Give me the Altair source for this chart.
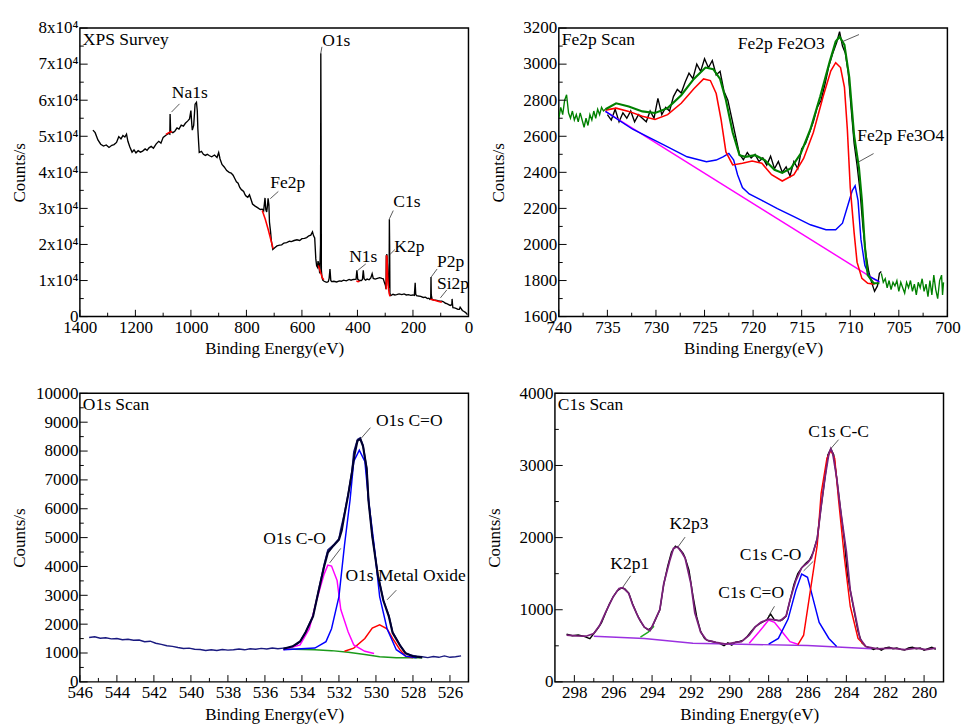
import altair as alt
import pandas as pd

FONT = "Liberation Serif"
W, H = 400, 297

# ---------------- Panel 1: XPS survey ----------------
survey_E = [1353, 1345, 1335, 1325, 1315, 1305, 1295, 1285, 1277, 1268, 1260, 1252, 1245, 1238, 1232, 1227,
            1220, 1212, 1205, 1198, 1190, 1182, 1174, 1165, 1158, 1151, 1143, 1135, 1125, 1116, 1108, 1100,
            1090, 1081, 1076, 1075, 1073, 1065, 1058, 1050, 1043, 1035, 1027, 1020, 1012, 1005, 1000, 997,
            995, 990, 985, 980, 977, 975, 972, 970, 962, 955, 948, 941, 933, 925, 915, 906, 900, 895, 888,
            880, 871, 862, 855, 848, 842, 836, 830, 824, 818, 810, 805, 801, 795, 789, 783, 778, 770, 760,
            750, 743, 738, 735, 733, 730, 727, 724, 722, 719, 717, 713, 710, 705, 698, 690, 680, 673, 665,
            655, 645, 638, 628, 618, 608, 600, 591, 583, 575, 568, 562, 558, 554, 550, 547, 544, 542, 539,
            536, 533, 532, 531, 530, 528, 525, 520, 515, 510, 505, 502, 499, 496, 493, 485, 475, 465, 458,
            450, 440, 430, 423, 415, 405, 402, 399, 394, 386, 382, 379, 376, 371, 365, 358, 352, 347, 343,
            336, 328, 320, 312, 307, 303, 299, 297, 296, 294, 292, 290, 288, 286, 285, 284, 283, 282, 280,
            272, 265, 259, 250, 240, 232, 224, 216, 208, 200, 195, 192, 190, 187, 180, 172, 163, 155, 148,
            143, 139, 136, 135, 134, 131, 125, 118, 110, 103, 96, 90, 83, 78, 73, 66, 60, 59, 57, 56, 50,
            43, 38, 33, 30, 27, 22, 16, 10, 6, 3]
survey_C = [51700, 51000, 49000, 47800, 47300, 47600, 46900, 47500, 47700, 48300, 49900, 49300, 50200, 49800,
            50600, 48600, 47000, 45600, 46200, 45400, 46000, 45600, 45900, 46500, 46100, 46800, 47200, 46700,
            47900, 48600, 48100, 49700, 50300, 50800, 50600, 56200, 51300, 51000, 51400, 52300, 52000, 53100,
            52800, 53600, 54200, 54800, 57100, 53500, 51700, 53000, 58900, 59400, 57000, 52100, 48000, 45500,
            45800, 45000, 44700, 45000, 44600, 44300, 44800, 44100, 45500, 43700, 42200, 41500, 40500, 40000,
            39800, 39200, 38300, 37400, 37000, 35800, 35200, 34700, 33800, 33400, 33100, 33800, 32400, 31200,
            30700, 30200, 29700, 29800, 29300, 31500, 32900, 29600, 29000, 30800, 32800, 31000, 26200, 23500,
            20900, 18600, 19100, 19600, 19800, 19900, 20400, 20500, 20900, 20800, 21100, 21300, 21100, 21600,
            21700, 21900, 22400, 22600, 23500, 22400, 21800, 16000, 14100, 13700, 15400, 14500, 12000, 20000,
            73000, 50000, 13000, 11000, 10100, 9800, 9600, 9500, 9700, 10600, 13200, 10000, 9700, 9800, 9600,
            9900, 9800, 10100, 9900, 10300, 10100, 10300, 10400, 12800, 10400, 10000, 10000, 10300, 12800,
            10500, 10100, 10400, 10200, 10700, 11900, 10600, 10400, 10600, 10800, 10600, 10500, 9500, 8600,
            7600, 16800, 17300, 14500, 10500, 8500, 8000, 27000, 20000, 6500, 6000, 5800, 6200, 6000, 6100,
            6300, 6100, 6300, 6000, 6100, 5900, 6000, 5900, 9400, 6200, 5800, 5700, 5600, 5300, 5400, 5000,
            5100, 4800, 5000, 11000, 6000, 4750, 4600, 4550, 4400, 4300, 4300, 4100, 3700, 3600, 3400, 3100,
            3300, 4900, 3000, 2500, 2400, 2200, 2000, 2000, 2600, 2300, 1700, 1400, 1100, 720, 600]
red_na_E = [1090, 1080, 1068]
red_na_C = [50500, 51000, 51300]
red_fe_E = [743, 732, 722, 712, 704]
red_fe_C = [29400, 27000, 24300, 21300, 18900]
red_o_E = [541, 536, 531, 526, 521]
red_o_C = [14200, 13000, 11800, 10700, 10200]
red_n_E = [404, 398, 392]
red_n_C = [9900, 9700, 9800]
red_k_E = [296.5, 295.5, 293.5, 291, 288.5, 286, 283.5, 282]
red_k_C = [7600, 17000, 16500, 11000, 8000, 6500, 5800, 5700]
red_p_E = [137, 122, 107, 96]
red_p_C = [4800, 4500, 4200, 4000]

survey_lbl = ["O1s", "Na1s", "Fe2p", "C1s", "K2p", "N1s", "P2p", "Si2p"]
survey_lbl_E = [476, 1004, 651, 222, 213, 379, 64, 56]
survey_lbl_C = [76300, 62000, 37000, 31700, 19300, 16400, 15000, 9100]
survey_lead_E1 = [532, 1070, 714, 285, 282, 399, 134, 101]
survey_lead_C1 = [73000, 56700, 32700, 27100, 17300, 12800, 11000, 5200]
survey_lead_E2 = [528, 1041, 685, 271, 265, 370, 113, 78]
survey_lead_C2 = [74800, 59000, 34700, 29400, 18600, 14600, 13200, 7400]

# ---------------- Panel 2: Fe2p ----------------
fe_raw_left_E = [740.0, 739.8, 739.6, 739.4, 739.2, 739.0, 738.8, 738.6, 738.4, 738.2, 738.0, 737.8, 737.6,
                 737.4, 737.2, 737.0, 736.8, 736.6, 736.4, 736.2, 736.0, 735.8, 735.6, 735.4, 735.2]
fe_raw_left_C = [2700, 2760, 2720, 2800, 2830, 2730, 2700, 2740, 2690, 2720, 2680, 2730, 2690, 2650, 2700,
                 2660, 2720, 2690, 2740, 2700, 2750, 2720, 2760, 2740, 2750]
fe_raw_right_E = [706.8, 706.6, 706.4, 706.2, 706.0, 705.8, 705.6, 705.4, 705.2, 705.0, 704.8, 704.6, 704.4,
                  704.2, 704.0, 703.8, 703.6, 703.4, 703.2, 703.0, 702.8, 702.6, 702.4, 702.2, 702.0, 701.8,
                  701.6, 701.4, 701.2, 701.0, 700.8, 700.6, 700.5, 700.4]
fe_raw_right_C = [1840, 1790, 1810, 1760, 1800, 1750, 1790, 1770, 1800, 1740, 1790, 1760, 1730, 1790, 1760,
                  1800, 1740, 1780, 1720, 1790, 1760, 1810, 1740, 1780, 1710, 1800, 1720, 1830, 1750, 1700,
                  1800, 1830, 1720, 1790]
fe_fit_E = [735.2, 734.1, 732.8, 731.4, 730.1, 728.8, 727.4, 726.1, 724.9, 724.1, 723.4, 722.8, 722.1, 721.4,
            720.8, 719.8, 718.8, 717.8, 717.0, 716.1, 715.1, 714.1, 713.1, 712.1, 711.5, 711.1, 710.6, 710.1,
            709.6, 709.1, 708.8, 708.5, 708.2, 707.6, 707.0]
fe_fit_C = [2750, 2783, 2765, 2738, 2729, 2756, 2828, 2918, 2981, 2972, 2918, 2801, 2621, 2495, 2486, 2495,
            2468, 2414, 2397, 2423, 2504, 2639, 2819, 3017, 3125, 3152, 3107, 2927, 2603, 2423, 2244, 1992,
            1830, 1785, 1785]
fe_black_E = [735.0, 734.6, 734.2, 733.8, 733.4, 733.0, 732.6, 732.2, 731.8, 731.4, 731.0, 730.6, 730.2, 729.8,
              729.4, 729.0, 728.6, 728.2, 727.8, 727.4, 727.0, 726.6, 726.2, 725.8, 725.4, 725.0, 724.6, 724.2,
              723.8, 723.4, 723.0, 722.6, 722.2, 721.8, 721.4, 721.0, 720.6, 720.2, 719.8, 719.4, 719.0, 718.6,
              718.2, 717.8, 717.4, 717.0, 716.6, 716.2, 715.8, 715.4, 715.0, 714.6, 714.2, 713.8, 713.4, 713.0,
              712.6, 712.2, 711.8, 711.4, 711.1, 710.8, 710.5, 710.2, 709.9, 709.6, 709.3, 709.0, 708.7, 708.4,
              708.1, 707.8, 707.5, 707.2, 707.0, 706.8]
fe_black_C = [2720, 2690, 2750, 2680, 2730, 2700, 2740, 2680, 2720, 2700, 2680, 2740, 2700, 2810, 2720, 2760,
              2740, 2820, 2860, 2840, 2900, 2950, 2920, 3000, 2960, 3030, 2980, 3020, 2940, 2960, 2850, 2800,
              2700, 2600, 2500, 2470, 2510, 2480, 2500, 2460, 2480, 2440, 2490, 2420, 2460, 2400, 2430, 2380,
              2460, 2420, 2530, 2560, 2620, 2680, 2760, 2800, 2890, 2990, 3060, 3120, 3180, 3100, 3060, 2950,
              2750, 2560, 2440, 2300, 2100, 1950, 1850, 1790, 1740, 1770, 1840, 1850]
fe_red_E = [735.2, 734.1, 732.8, 731.4, 730.1, 728.8, 727.4, 726.1, 725.1, 724.4, 723.8, 723.3, 722.8, 722.1,
            721.1, 720.1, 719.1, 718.1, 717.0, 715.8, 714.8, 713.8, 712.8, 712.0, 711.5, 711.0, 710.6, 710.3,
            710.0, 709.6, 709.3, 708.8, 708.2, 707.5]
fe_red_C = [2745, 2756, 2738, 2711, 2693, 2720, 2783, 2864, 2918, 2909, 2837, 2693, 2513, 2441, 2450, 2463,
            2450, 2387, 2352, 2387, 2477, 2621, 2819, 2963, 3008, 2981, 2873, 2639, 2316, 2064, 1902, 1812,
            1785, 1780]
fe_blue_E = [735.2, 732.4, 729.1, 726.8, 724.8, 723.8, 723.1, 722.5, 722.0, 721.6, 721.1, 720.4, 719.1, 717.5,
             715.8, 714.1, 712.5, 711.5, 710.8, 710.3, 709.8, 709.5, 709.2, 708.9, 708.5, 708.0, 707.0]
fe_blue_C = [2738, 2639, 2549, 2486, 2459, 2468, 2486, 2505, 2468, 2387, 2316, 2280, 2244, 2199, 2154, 2109,
             2082, 2082, 2118, 2208, 2298, 2325, 2244, 2028, 1884, 1821, 1794]
fe_bg_E = [735.2, 707.0]
fe_bg_C = [2738, 1790]

fe_lbl = ["Fe2p Fe2O3", "Fe2p Fe3O4"]
fe_lbl_E = [717.1, 704.8]
fe_lbl_C = [3110, 2600]
fe_lead_E1 = [710.8, 709.1]
fe_lead_C1 = [3125, 2459]
fe_lead_E2 = [709.1, 707.6]
fe_lead_C2 = [3164, 2504]

# ---------------- Panel 3: O1s ----------------
o_raw_E = [545.5, 545.2, 544.9, 544.6, 544.3, 544.0, 543.7, 543.4, 543.1, 542.8, 542.5, 542.2, 541.9, 541.6,
           541.3, 541.0, 540.7, 540.4, 540.1, 539.8, 539.5, 539.2, 538.9, 538.6, 538.3, 538.0, 537.7, 537.4,
           537.1, 536.8, 536.5, 536.2, 535.9, 535.6, 535.3, 535.0, 534.7, 534.4, 534.1, 533.8, 533.4, 533.1,
           532.8, 532.6, 532.3, 532.0, 531.9, 531.7, 531.5, 531.3, 531.2, 531.0, 530.85, 530.7, 530.5, 530.4,
           530.2, 529.9, 529.6, 529.3, 529.1, 528.7, 528.4, 528.1, 527.8, 527.5, 527.2, 526.9, 526.6, 526.3,
           526.0, 525.7, 525.4]
o_raw_C = [1540, 1560, 1510, 1530, 1490, 1500, 1460, 1480, 1440, 1450, 1390, 1410, 1340, 1300, 1250, 1230,
           1190, 1160, 1170, 1130, 1120, 1090, 1110, 1090, 1120, 1100, 1110, 1140, 1110, 1150, 1130, 1160, 1140,
           1170, 1150, 1170, 1190, 1240, 1390, 1730, 2290, 3180, 4070, 4570, 4740, 4960, 5300, 5850, 6520, 7300,
           7970, 8400, 8460, 8200, 7420, 6300, 5070, 3740, 2840, 2290, 1730, 1280, 1000, 920, 890, 870, 840, 880,
           850, 900, 850, 870, 900]
o_env_E = [535.0, 534.5, 534.1, 533.8, 533.4, 533.1, 532.8, 532.6, 532.3, 532.0, 531.85, 531.7, 531.5, 531.3,
           531.15, 531.0, 530.85, 530.7, 530.5, 530.4, 530.2, 529.9, 529.6, 529.3, 529.1, 528.7, 528.4, 528.0,
           527.5]
o_env_C = [1150, 1230, 1400, 1720, 2270, 3150, 4000, 4480, 4720, 4930, 5250, 5800, 6480, 7250, 7900, 8350, 8420,
           8170, 7380, 6260, 5050, 3700, 2820, 2260, 1700, 1260, 990, 890, 850]
o_co2_E = [535.0, 533.3, 532.7, 532.4, 532.0, 531.7, 531.4, 531.2, 530.9, 530.6, 530.4, 530.1, 529.8, 529.4,
           528.9, 528.4, 527.8]
o_co2_C = [1115, 1171, 1394, 1840, 2955, 4739, 6300, 7638, 8028, 7638, 6300, 4739, 2955, 1840, 1115, 892, 836]
o_co_E = [535.0, 534.1, 533.6, 533.2, 532.8, 532.6, 532.4, 532.1, 531.9, 531.5, 531.2, 530.6, 530.1]
o_co_C = [1115, 1282, 1840, 2843, 3735, 4047, 4014, 3512, 2509, 1728, 1282, 1059, 981]
o_mo_E = [531.7, 531.2, 530.6, 530.2, 529.8, 529.4, 529.1, 528.7, 528.4, 528.0]
o_mo_C = [1059, 1171, 1505, 1862, 1974, 1840, 1505, 1115, 892, 836]
o_bg_E = [535.0, 533.3, 532.4, 531.5, 530.6, 529.8, 528.9, 527.5]
o_bg_C = [1137, 1115, 1082, 1026, 948, 870, 836, 836]

o_lbl = ["O1s C=O", "O1s C-O", "O1s Metal Oxide"]
o_lbl_E = [528.2, 534.4, 528.4]
o_lbl_C = [9030, 4960, 3680]
o_lead_E1 = [530.8, 532.5, 529.4]
o_lead_C1 = [8441, 4125, 2843]
o_lead_E2 = [530.3, 531.9, 528.9]
o_lead_C2 = [8810, 4627, 3178]

# ---------------- Panel 4: C1s ----------------
c_raw_E = [298.4, 298.1, 297.8, 297.5, 297.2, 297.0, 296.8, 296.6, 296.4, 296.2, 296.0, 295.8, 295.6, 295.4,
           295.2, 295.0, 294.8, 294.6, 294.4, 294.2, 294.0, 293.8, 293.6, 293.4, 293.2, 293.0, 292.8, 292.6,
           292.4, 292.3, 292.1, 291.9, 291.7, 291.5, 291.3, 291.1, 290.9, 290.7, 290.5, 290.3, 290.1, 289.9,
           289.7, 289.5, 289.3, 289.1, 288.9, 288.7, 288.5, 288.3, 288.1, 287.9, 287.7, 287.5, 287.3, 287.1,
           286.9, 286.7, 286.5, 286.3, 286.1, 285.9, 285.7, 285.5, 285.3, 285.1, 284.95, 284.8, 284.65, 284.5,
           284.3, 284.1, 283.95, 283.8, 283.6, 283.4, 283.2, 283.0, 282.8, 282.6, 282.4, 282.2, 282.0, 281.8,
           281.6, 281.4, 281.2, 281.0, 280.8, 280.6, 280.4, 280.2, 280.0, 279.8, 279.6, 279.4]
c_raw_C = [660, 640, 650, 630, 600, 670, 740, 820, 950, 1080, 1180, 1260, 1300, 1290, 1230, 1080, 950, 840, 760,
           720, 760, 880, 1000, 1350, 1600, 1800, 1880, 1850, 1780, 1720, 1550, 1200, 900, 700, 600, 570, 560,
           545, 530, 500, 540, 510, 550, 560, 580, 630, 700, 760, 800, 830, 860, 940, 860, 850, 860, 910, 1130,
           1350, 1500, 1580, 1640, 1690, 1800, 1990, 2430, 2830, 3150, 3230, 3150, 2830, 2390, 1950, 1500,
           1270, 980, 700, 540, 490, 470, 450, 470, 440, 470, 480, 460, 470, 450, 440, 470, 480, 460, 470, 440,
           460, 480, 450]
c_env_E = [298.4, 297.9, 297.4, 297.0, 296.7, 296.4, 296.0, 295.7, 295.5, 295.2, 295.0, 294.7, 294.4, 294.1,
           293.9, 293.6, 293.4, 293.1, 292.9, 292.7, 292.5, 292.3, 292.0, 291.8, 291.5, 291.2, 290.7, 290.2,
           289.7, 289.4, 289.0, 288.7, 288.4, 288.0, 287.7, 287.4, 287.1, 286.9, 286.6, 286.3, 286.0, 285.8,
           285.5, 285.3, 285.1, 284.9, 284.8, 284.7, 284.5, 284.3, 284.0, 283.8, 283.5, 283.3, 283.0, 282.4,
           281.7, 281.0, 280.4, 279.9, 279.4]
c_env_C = [647, 638, 633, 669, 780, 959, 1182, 1293, 1306, 1226, 1070, 892, 758, 713, 825, 1003, 1360, 1672,
           1850, 1873, 1806, 1717, 1360, 959, 691, 580, 548, 522, 548, 557, 647, 758, 825, 870, 860, 847, 914,
           1137, 1405, 1583, 1650, 1717, 1984, 2430, 2831, 3166, 3233, 3166, 2831, 2386, 1806, 1271, 870, 602,
           490, 459, 468, 446, 468, 446, 468]
c_bg_E = [297.0, 294.4, 291.9, 289.4, 286.0, 282.7]
c_bg_C = [633, 602, 535, 522, 504, 459]
c_green_E = [294.6, 294.2, 293.9]
c_green_C = [620, 690, 770]
c_co2_E = [289.0, 288.5, 288.0, 287.7, 287.3, 286.9, 286.5]
c_co2_C = [535, 691, 856, 825, 691, 557, 522]
c_co_E = [288.0, 287.5, 287.0, 286.6, 286.3, 286.0, 285.7, 285.4, 284.9, 284.5]
c_co_C = [522, 602, 870, 1271, 1494, 1449, 1137, 825, 602, 490]
c_cc_E = [286.5, 286.2, 285.9, 285.5, 285.3, 285.0, 284.8, 284.6, 284.4, 284.1, 283.8, 283.4, 283.0]
c_cc_C = [513, 647, 1182, 1895, 2609, 3099, 3210, 3099, 2519, 1717, 1048, 602, 490]

c_lbl = ["C1s C-C", "K2p3", "K2p1", "C1s C-O", "C1s C=O"]
c_lbl_E = [284.4, 292.1, 295.15, 287.9, 288.9]
c_lbl_C = [3456, 2185, 1627, 1761, 1226]
c_lead_E1 = [284.8, 292.7, 295.5, 286.2, 288.0]
c_lead_C1 = [3233, 1859, 1315, 1538, 914]
c_lead_E2 = [284.4, 292.3, 295.1, 285.7, 287.7]
c_lead_C2 = [3358, 2007, 1471, 1672, 1048]


def sdf(xs, ys):
    return pd.DataFrame({"E": xs, "C": ys, "i": list(range(len(xs)))})


def panel(title, xdom, ydom, xmajor, xminor, ymajor, yminor, ylabel_expr, series, lbl, lblE, lblC,
          lE1, lC1, lE2, lC2):
    xs = alt.Scale(domain=xdom, reverse=True, nice=False, zero=False)
    ys = alt.Scale(domain=ydom, nice=False, zero=False)
    xaxis = alt.Axis(values=xmajor, ticks=False, domain=False, grid=False, labelFlush=False,
                     labelOverlap=False, format="d", title="Binding Energy(eV)", labelPadding=2,
                     titlePadding=5)
    yaxis_kw = dict(values=ymajor, ticks=False, domain=False, grid=False, labelOverlap=False,
                    format="d", title="Counts/s", labelPadding=2, titlePadding=9, minExtent=44,
                    maxExtent=44, labelFlush=False)
    if ylabel_expr:
        yaxis_kw["labelExpr"] = ylabel_expr
    yaxis = alt.Axis(**yaxis_kw)

    def X(f="E"):
        return alt.X(f + ":Q", scale=xs, axis=xaxis)

    def Y(f="C"):
        return alt.Y(f + ":Q", scale=ys, axis=yaxis)

    layers = []
    for xsv, ysv, color, w in series:
        layers.append(
            alt.Chart(sdf(xsv, ysv)).mark_line(color=color, strokeWidth=w, clip=True)
            .encode(x=X(), y=Y(), order="i:Q")
        )
    # inward ticks
    layers.append(alt.Chart(pd.DataFrame({"E": xmajor})).mark_rule(color="black", strokeWidth=1)
                  .encode(x=X(), y=alt.value(H), y2=alt.value(H - 7)))
    layers.append(alt.Chart(pd.DataFrame({"E": xminor})).mark_rule(color="black", strokeWidth=1)
                  .encode(x=X(), y=alt.value(H), y2=alt.value(H - 4)))
    layers.append(alt.Chart(pd.DataFrame({"C": ymajor})).mark_rule(color="black", strokeWidth=1)
                  .encode(y=Y(), x=alt.value(0), x2=alt.value(8)))
    layers.append(alt.Chart(pd.DataFrame({"C": yminor})).mark_rule(color="black", strokeWidth=1)
                  .encode(y=Y(), x=alt.value(0), x2=alt.value(4)))
    # leader lines
    lead = pd.DataFrame({"E": lE1, "C": lC1, "E2": lE2, "C2": lC2})
    layers.append(alt.Chart(lead).mark_rule(color="#444444", strokeWidth=0.9)
                  .encode(x=X(), y=Y(), x2="E2:Q", y2="C2:Q"))
    # labels
    lab = pd.DataFrame({"E": lblE, "C": lblC, "t": lbl})
    layers.append(alt.Chart(lab).mark_text(font=FONT, fontSize=18, color="black", align="center",
                                           baseline="middle")
                  .encode(x=X(), y=Y(), text="t:N"))
    # panel title
    layers.append(alt.Chart(pd.DataFrame({"t": [title]})).mark_text(
        font=FONT, fontSize=18, color="black", align="left", baseline="middle")
        .encode(x=alt.value(3), y=alt.value(12), text="t:N"))
    return alt.layer(*layers).properties(width=W, height=H)


p1 = panel("XPS Survey", [0, 1400], [0, 80000],
           [1400, 1200, 1000, 800, 600, 400, 200, 0], [1300, 1100, 900, 700, 500, 300, 100],
           [0, 10000, 20000, 30000, 40000, 50000, 60000, 70000, 80000],
           [5000, 15000, 25000, 35000, 45000, 55000, 65000, 75000],
           "datum.value == 0 ? '0' : format(datum.value / 10000, 'd') + 'x10\u2074'",
           [(survey_E, survey_C, "black", 1.4),
            (red_na_E, red_na_C, "#ff0000", 1.6),
            (red_fe_E, red_fe_C, "#ff0000", 1.6),
            (red_o_E, red_o_C, "#ff0000", 1.6),
            (red_n_E, red_n_C, "#ff0000", 1.6),
            (red_k_E, red_k_C, "#ff0000", 1.6),
            (red_p_E, red_p_C, "#ff0000", 1.6)],
           survey_lbl, survey_lbl_E, survey_lbl_C,
           survey_lead_E1, survey_lead_C1, survey_lead_E2, survey_lead_C2)

p2 = panel("Fe2p Scan", [700, 740], [1600, 3200],
           [740, 735, 730, 725, 720, 715, 710, 705, 700],
           [737.5, 732.5, 727.5, 722.5, 717.5, 712.5, 707.5, 702.5],
           [1600, 1800, 2000, 2200, 2400, 2600, 2800, 3000, 3200],
           [1700, 1900, 2100, 2300, 2500, 2700, 2900, 3100],
           None,
           [(fe_raw_left_E, fe_raw_left_C, "#008000", 1.4),
            (fe_raw_right_E, fe_raw_right_C, "#008000", 1.4),
            (fe_black_E, fe_black_C, "black", 1.4),
            (fe_bg_E, fe_bg_C, "#ff00ff", 1.5),
            (fe_blue_E, fe_blue_C, "#0000ff", 1.5),
            (fe_red_E, fe_red_C, "#ff0000", 1.6),
            (fe_fit_E, fe_fit_C, "#008000", 2.2)],
           fe_lbl, fe_lbl_E, fe_lbl_C, fe_lead_E1, fe_lead_C1, fe_lead_E2, fe_lead_C2)

p3 = panel("O1s Scan", [525, 546], [0, 10000],
           [546, 544, 542, 540, 538, 536, 534, 532, 530, 528, 526],
           [545, 543, 541, 539, 537, 535, 533, 531, 529, 527, 525],
           [0, 1000, 2000, 3000, 4000, 5000, 6000, 7000, 8000, 9000, 10000],
           [500, 1500, 2500, 3500, 4500, 5500, 6500, 7500, 8500, 9500],
           None,
           [(o_raw_E, o_raw_C, "#1a1a80", 1.5),
            (o_bg_E, o_bg_C, "#1a9a1a", 1.5),
            (o_mo_E, o_mo_C, "#ff0000", 1.5),
            (o_co_E, o_co_C, "#ff00ff", 1.5),
            (o_co2_E, o_co2_C, "#0000ff", 1.5),
            (o_env_E, o_env_C, "#000030", 2.2)],
           o_lbl, o_lbl_E, o_lbl_C, o_lead_E1, o_lead_C1, o_lead_E2, o_lead_C2)

p4 = panel("C1s Scan", [279, 299], [0, 4000],
           [298, 296, 294, 292, 290, 288, 286, 284, 282, 280],
           [297, 295, 293, 291, 289, 287, 285, 283, 281, 279],
           [0, 1000, 2000, 3000, 4000],
           [500, 1500, 2500, 3500],
           None,
           [(c_raw_E, c_raw_C, "black", 1.4),
            (c_bg_E, c_bg_C, "#9b30e0", 1.5),
            (c_green_E, c_green_C, "#22aa22", 1.5),
            (c_co2_E, c_co2_C, "#ff00ff", 1.5),
            (c_co_E, c_co_C, "#0000ff", 1.5),
            (c_cc_E, c_cc_C, "#ff0000", 1.5),
            (c_env_E, c_env_C, "#7a1f7a", 1.8)],
           c_lbl, c_lbl_E, c_lbl_C, c_lead_E1, c_lead_C1, c_lead_E2, c_lead_C2)

chart = alt.vconcat(
    alt.hconcat(p1, p2, spacing=15),
    alt.hconcat(p3, p4, spacing=15),
    spacing=26,
).properties(
    padding={"left": 2, "top": 0, "right": 0, "bottom": 0},
    background="white",
).configure_view(
    stroke="black", strokeWidth=1.5
).configure_axis(
    labelFont=FONT, titleFont=FONT, labelFontSize=17.5, titleFontSize=17.5,
    labelColor="black", titleColor="black", titleFontWeight="normal"
)

chart.save("out.html", embed_options={"renderer": "svg", "actions": False})
